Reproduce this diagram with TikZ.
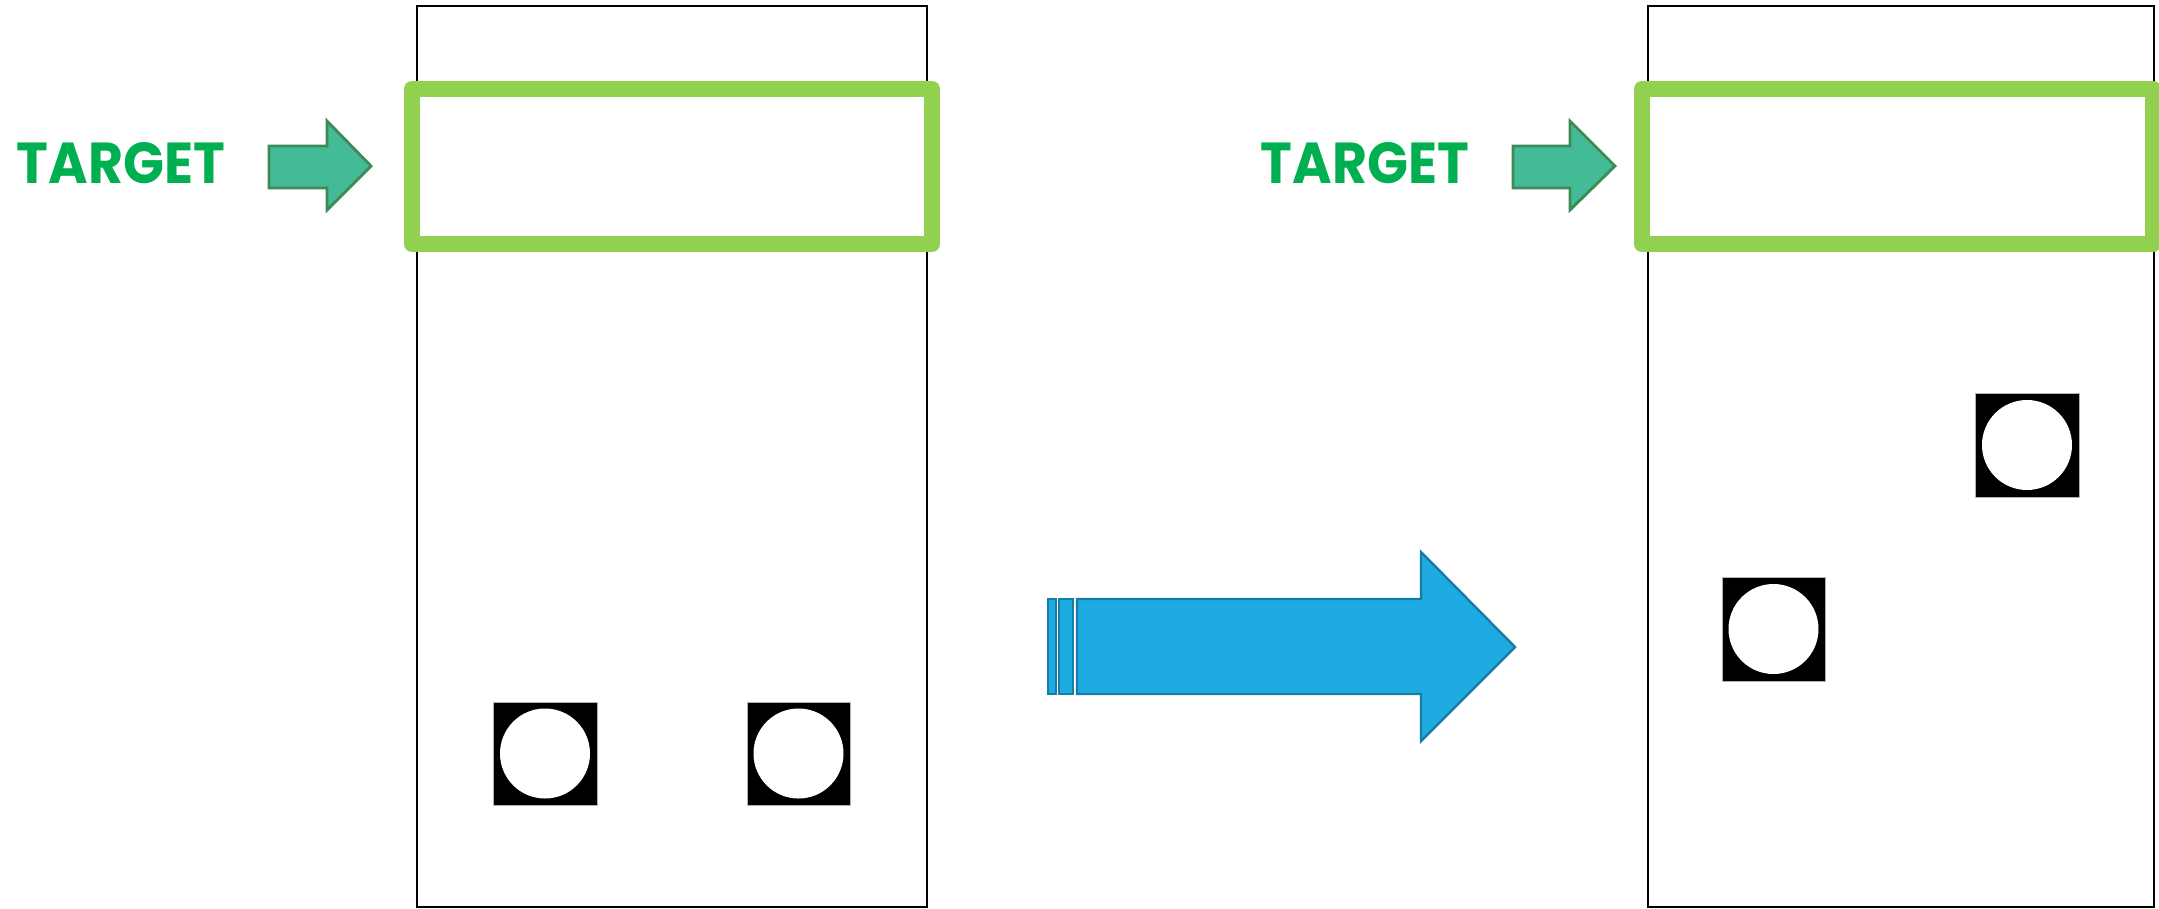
\documentclass[tikz,border=0pt]{standalone}
\usepackage{fontspec}
\newfontfamily\targetfont{Poppins}[UprightFont=* Bold]
\definecolor{txtgreen}{RGB}{0,176,80}
\definecolor{boxgreen}{RGB}{146,208,80}
\definecolor{arrfill}{RGB}{67,187,150}
\definecolor{arrdraw}{RGB}{62,138,85}
\definecolor{bluefill}{RGB}{30,171,226}
\definecolor{bluedraw}{RGB}{22,125,166}
\tikzset{
  column/.style={draw=black, line width=0.6pt},
  targetbox/.style={draw=boxgreen, line width=4.55pt, line join=round},
  smallarrow/.style={fill=arrfill, draw=arrdraw, line width=0.8pt},
  bigarrow/.style={fill=bluefill, draw=bluedraw, line width=0.7pt},
  marker/.style={fill=black, draw=gray!60, line width=0.2pt},
  hole/.style={fill=white},
  targetlabel/.style={inner sep=0pt, anchor=west, text=txtgreen}
}
\begin{document}
\begin{tikzpicture}[x=0.01cm, y=-0.01cm]
\useasboundingbox (0,0) rectangle (2159,908);
% columns
\draw[column] (417,6) rectangle (927,907);
\draw[column] (1648,6) rectangle (2154,907);
% target boxes
\draw[targetbox] (412,89) rectangle (932,244);
\draw[targetbox] (1642,89) rectangle (2153,244);
% labels
\node[targetlabel] (t1) at (16,163.5) {\resizebox{2.08cm}{0.41cm}{\targetfont TARGET}};
\node[targetlabel] (t2) at (1260,163.5) {\resizebox{2.08cm}{0.41cm}{\targetfont TARGET}};
% small green arrows
\draw[smallarrow] (269,146) -- (327,146) -- (327,121) -- (371,166) -- (327,210) -- (327,188) -- (269,188) -- cycle;
\draw[smallarrow] (1513,146) -- (1570,146) -- (1570,121) -- (1615,166) -- (1570,210) -- (1570,188) -- (1513,188) -- cycle;
% big blue arrow
\draw[bigarrow] (1048,599) rectangle (1056,694);
\draw[bigarrow] (1059,599) rectangle (1073,694);
\draw[bigarrow] (1077,599) -- (1421,599) -- (1421,552) -- (1515,647) -- (1421,741) -- (1421,694) -- (1077,694) -- cycle;
% markers left
\draw[marker] (493,702) rectangle (597,805);
\fill[hole] (545,753.5) circle (45);
\draw[marker] (747,702) rectangle (850,805);
\fill[hole] (798.5,753.5) circle (45);
% markers right
\draw[marker] (1975,393) rectangle (2079,497);
\fill[hole] (2027,445) circle (45);
\draw[marker] (1722,577) rectangle (1825,681);
\fill[hole] (1773.5,629) circle (45);
\end{tikzpicture}
\end{document}
